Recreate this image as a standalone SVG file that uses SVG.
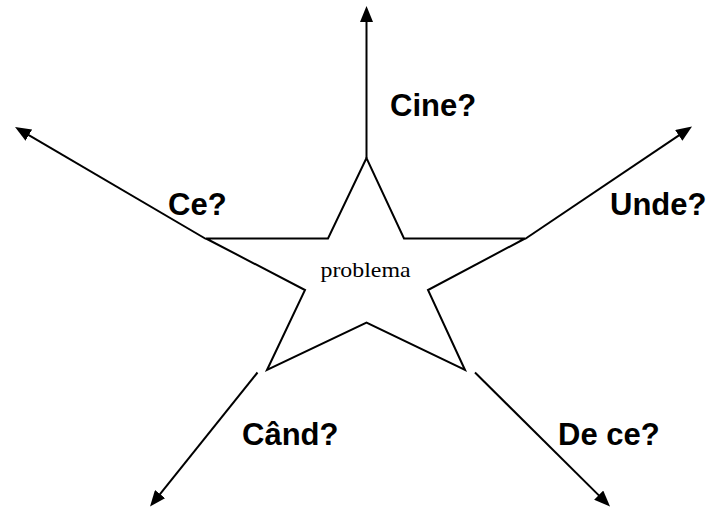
<svg xmlns="http://www.w3.org/2000/svg" width="715" height="510" viewBox="0 0 715 510">
<style>
.edge{stroke:#000;stroke-width:2;fill:none;marker-end:url(#ah)}
.lbl{font-family:"Liberation Sans",Arial,sans-serif;font-weight:bold;font-size:31px;fill:#000}
.star{fill:#fff;stroke:#000;stroke-width:2;stroke-linejoin:miter}
.ctr{font-family:"Liberation Serif","Times New Roman",serif;font-size:21px;fill:#000}
</style>
<defs>
<marker id="ah" markerUnits="userSpaceOnUse" markerWidth="16" markerHeight="13" refX="2" refY="6.5" orient="auto">
<path d="M0,0 L16,6.5 L0,13 z" fill="#000"/>
</marker>
</defs>
<rect width="715" height="510" fill="#fff"/>
<g id="connectors">
<line class="edge" x1="366.5" y1="158" x2="366.5" y2="20"/>
<line class="edge" x1="206" y1="239" x2="27.1" y2="134.1"/>
<line class="edge" x1="525" y1="239" x2="680.4" y2="134.3"/>
<line class="edge" x1="257.5" y1="372.5" x2="158.8" y2="495.6"/>
<line class="edge" x1="475" y1="372.5" x2="600.1" y2="496.6"/>
</g>
<g id="star">
<polygon class="star" points="366.5,158 328,238.5 206,238.5 305,290 267,370 366.5,322.5 465,370 428,290 525,238.5 404,238.5"/>
<text class="ctr" x="320.5" y="277" textLength="90" lengthAdjust="spacingAndGlyphs">problema</text>
</g>
<g id="cine"><text class="lbl" x="390" y="116">Cine?</text></g>
<g id="ce"><text class="lbl" x="168" y="215">Ce?</text></g>
<g id="unde"><text class="lbl" x="610" y="215">Unde?</text></g>
<g id="cand"><text class="lbl" x="242" y="445">Când?</text></g>
<g id="dece"><text class="lbl" x="558" y="445">De ce?</text></g>
</svg>
